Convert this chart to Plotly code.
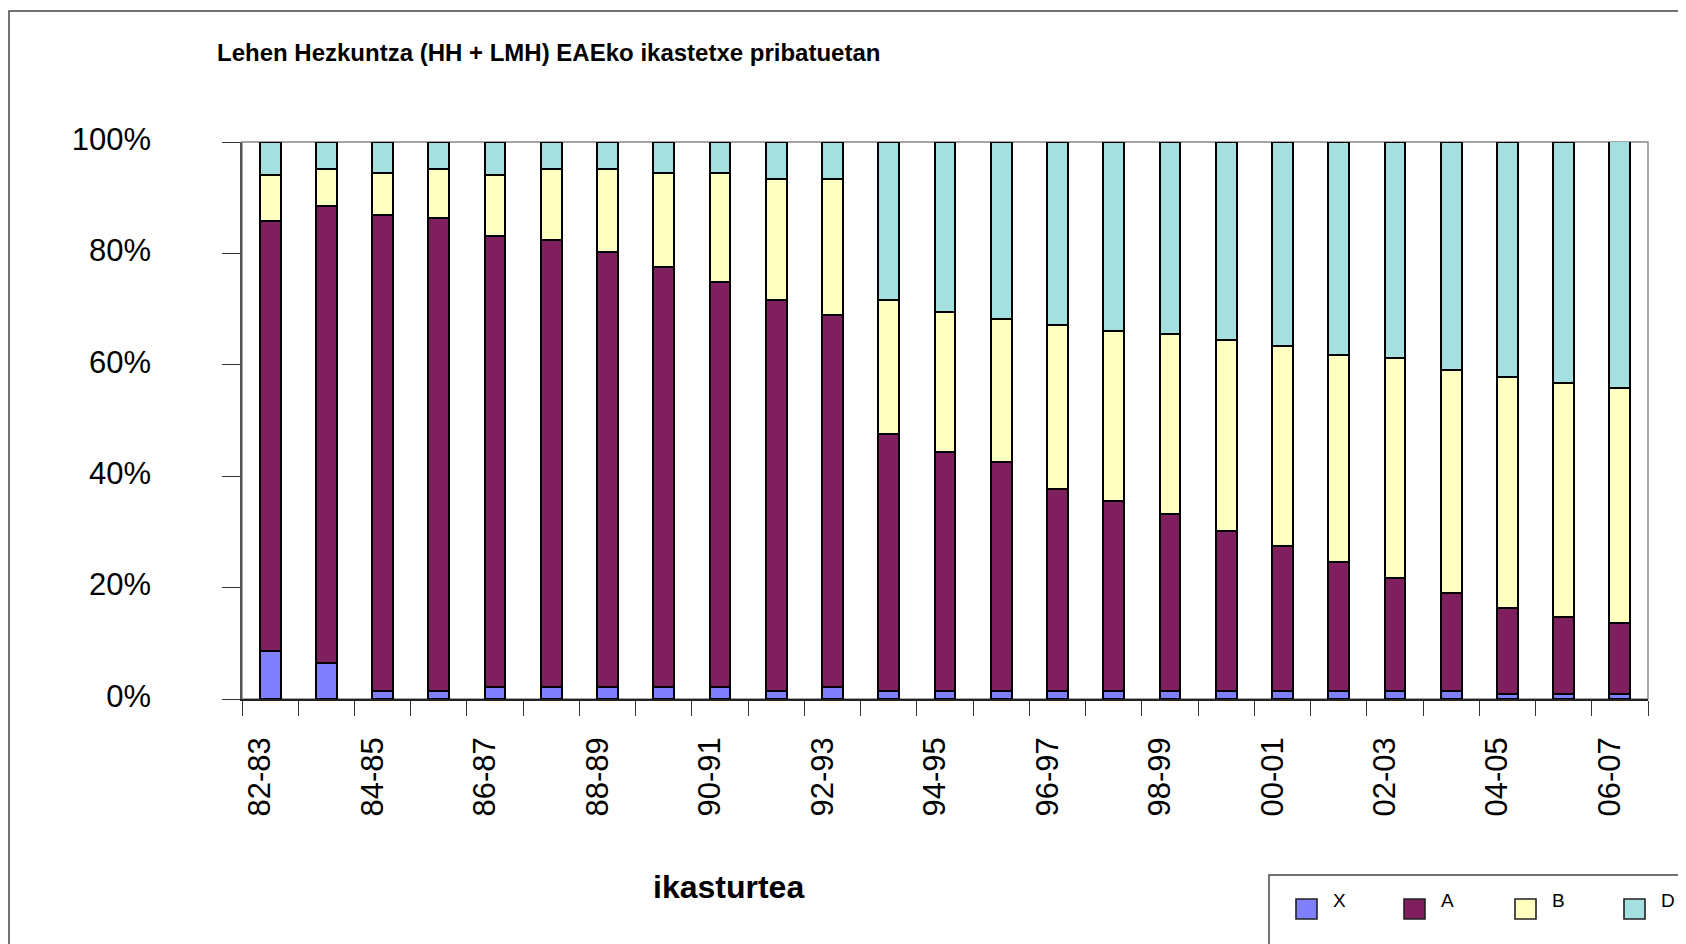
import plotly.graph_objects as go

# school years (ikasturtea)
years = ["82-83", "83-84", "84-85", "85-86", "86-87", "87-88", "88-89", "89-90",
         "90-91", "91-92", "92-93", "93-94", "94-95", "95-96", "96-97", "97-98",
         "98-99", "99-00", "00-01", "01-02", "02-03", "03-04", "04-05", "05-06", "06-07"]

# share of each model, %
x_share = [8.6, 6.5, 1.5, 1.5, 2.2, 2.2, 2.2, 2.2, 2.2, 1.5, 2.2, 1.5, 1.5,
           1.5, 1.5, 1.5, 1.5, 1.5, 1.5, 1.5, 1.5, 1.5, 0.9, 0.9, 0.9]
a_share = [77.2, 82.0, 85.4, 84.9, 80.9, 80.2, 78.1, 75.4, 72.7, 70.1, 66.7, 46.0, 42.8,
           41.1, 36.2, 34.0, 31.8, 28.6, 25.9, 23.1, 20.3, 17.6, 15.5, 13.8, 12.7]
b_share = [8.2, 6.6, 7.6, 8.7, 10.9, 12.7, 14.8, 16.9, 19.6, 21.8, 24.5, 24.1, 25.1,
           25.7, 29.5, 30.6, 32.2, 34.4, 36.0, 37.2, 39.4, 39.9, 41.4, 42.1, 42.3]
d_share = [6.0, 4.9, 5.5, 4.9, 6.0, 4.9, 4.9, 5.5, 5.5, 6.6, 6.6, 28.4, 30.6,
           31.7, 32.8, 33.9, 34.5, 35.5, 36.6, 38.2, 38.8, 41.0, 42.2, 43.2, 44.3]

y_ticks = [0, 20, 40, 60, 80, 100]

series = [("X", x_share, "#8080FF"), ("A", a_share, "#801F5E"),
          ("B", b_share, "#FFFFC0"), ("D", d_share, "#A4E0E0")]

W, H = 1686, 944
OFF = 8                            # page body margin
L, R, T, B = 242, 1648, 142, 699   # plot area in screen pixels
FONT = "Liberation Sans, Arial, sans-serif"


def px(x):
    return (x - L) / (R - L)


def py(y):
    return (B - y) / (B - T)


fig = go.Figure()
for name, vals, col in series:
    fig.add_trace(go.Bar(
        x=years, y=vals, name=name,
        marker=dict(color=col, line=dict(color="black", width=2)),
        showlegend=False,
    ))

fig.update_layout(
    barmode="stack",
    bargap=0.63,
    width=W, height=H,
    margin=dict(l=L - OFF, r=W - (R - OFF), t=T - OFF, b=H - (B - OFF), pad=0),
    paper_bgcolor="white",
    plot_bgcolor="white",
    font=dict(family=FONT, color="black"),
    title=dict(text="<b>Lehen Hezkuntza (HH + LMH) EAEko ikastetxe pribatuetan</b>",
               x=(217 - OFF) / W, xanchor="left", y=1 - (53 - OFF) / H, yanchor="middle",
               font=dict(size=24, family=FONT, color="black")),
)

# every boundary gets a tick, every other year gets a label
fig.update_xaxes(
    type="category",
    tickvals=years,
    ticktext=[y if i % 2 == 0 else "" for i, y in enumerate(years)],
    tickson="boundaries",
    tickangle=-90,
    ticks="outside", ticklen=15, tickwidth=1.3, tickcolor="#333333",
    tickfont=dict(size=31, family=FONT, color="black"),
    ticklabelstandoff=24,
    ticklabelshift=-10,
    showline=True, linecolor="#222222", linewidth=1.6,
    showgrid=False, zeroline=False,
)

fig.update_yaxes(
    range=[0, 100],
    tickvals=y_ticks,
    ticktext=[f"{v}%" for v in y_ticks],
    ticks="outside", ticklen=18, tickwidth=1.3, tickcolor="#333333",
    tickfont=dict(size=31, family=FONT, color="black"),
    ticklabelstandoff=65,
    ticklabelshift=-3,
    showline=True, linecolor="#555555", linewidth=1.6,
    showgrid=False, zeroline=False,
)

shapes = [
    # plot area frame (top / right)
    dict(type="rect", xref="paper", yref="paper", x0=0, x1=1, y0=0, y1=1,
         line=dict(color="#888888", width=1.5), layer="below"),
    # chart area border
    dict(type="rect", xref="paper", yref="paper", x0=px(9), x1=px(1720),
         y0=py(990), y1=py(11), line=dict(color="#444444", width=1.5)),
    # legend box
    dict(type="rect", xref="paper", yref="paper", x0=px(1269), x1=px(1720),
         y0=py(990), y1=py(875), line=dict(color="#444444", width=1.5),
         fillcolor="white"),
]

annotations = [
    dict(text="<b>ikasturtea</b>", xref="paper", yref="paper",
         x=px(728), y=py(887), xanchor="center", yanchor="middle",
         showarrow=False, font=dict(size=32, family=FONT, color="black")),
]

legend_x = [1296, 1404, 1515, 1624]
for (name, vals, col), lx in zip(series, legend_x):
    shapes.append(dict(type="rect", xref="paper", yref="paper",
                       x0=px(lx), x1=px(lx + 21), y0=py(919), y1=py(899),
                       fillcolor=col, line=dict(color="#222222", width=1.6)))
    annotations.append(dict(text=name, xref="paper", yref="paper",
                            x=px(lx + 35), y=py(900), xanchor="left",
                            yanchor="middle", showarrow=False,
                            font=dict(size=19, family=FONT, color="black")))

fig.update_layout(shapes=shapes, annotations=annotations)

fig.write_html("out.html")
